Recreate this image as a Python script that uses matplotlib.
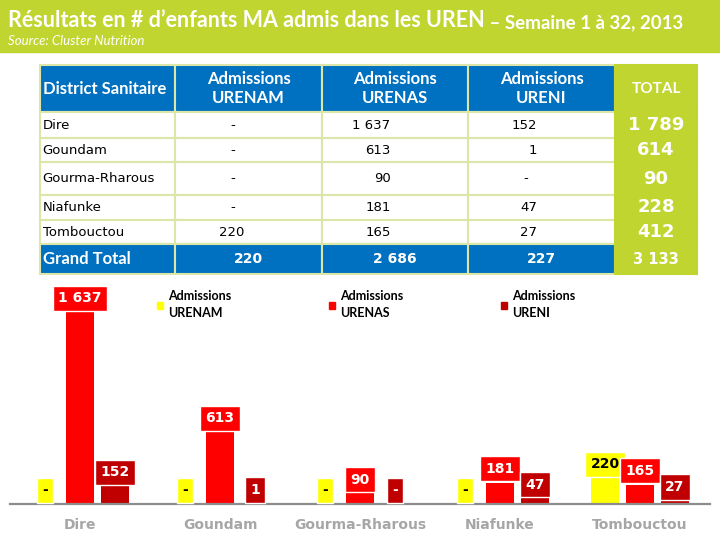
import matplotlib
matplotlib.use("Agg")
import matplotlib.pyplot as plt
from matplotlib.patches import Rectangle, Patch
import numpy as np

# data
districts = ["Dire", "Goundam", "Gourma-Rharous", "Niafunke", "Tombouctou"]
urenam = [0, 0, 0, 0, 220]
urenas = [1637, 613, 90, 181, 165]
ureni = [152, 1, 0, 47, 27]
series_names = ["Admissions\nURENAM", "Admissions\nURENAS", "Admissions\nURENI"]
series_colors = ["#FFFF00", "#FF0000", "#C00000"]
header = ["District Sanitaire", "Admissions\nURENAM", "Admissions\nURENAS",
          "Admissions\nURENI", "TOTAL"]

totals = [a + b + c for a, b, c in zip(urenam, urenas, ureni)]
grand = [sum(urenam), sum(urenas), sum(ureni), sum(totals)]


def fmt(v, dash="-"):
    if v == 0:
        return dash
    return f"{v:,}".replace(",", " ")


GREEN = "#C0D52F"
BLUE = "#0070C0"
GRID = "#DCE6A8"

fig = plt.figure(figsize=(7.2, 5.4), dpi=100)
fig.add_artist(Rectangle((0, 1 - 52 / 540), 1, 52 / 540, transform=fig.transFigure,
                         color=GREEN, zorder=0))

t1 = fig.text(8 / 720, 1 - 27 / 540, "Résultats en # d’enfants MA admis dans les UREN",
              fontsize=15.5, fontweight="bold", color="white", family="Lato", va="baseline")
fig.text(8 / 720, 1 - 45 / 540, "Source: Cluster Nutrition", fontsize=9.5, style="italic",
         color="white", family="Lato", va="baseline")

# ---- table ----
ax_t = fig.add_axes([40 / 720, 1 - 274 / 540, 657 / 720, 209 / 540])
ax_t.axis("off")
ax_t.annotate(" – Semaine 1 à 32, 2013", xy=(1, 0), xycoords=t1, va="bottom", ha="left",
              fontsize=13.5, fontweight="bold", color="white", family="Lato",
              annotation_clip=False)

cells = [header]
for d, a, b, c, t in zip(districts, urenam, urenas, ureni, totals):
    cells.append([d, fmt(a, "-  "), fmt(b, "-  "), fmt(c, "-  "), fmt(t)])
cells.append(["Grand Total"] + [fmt(v) for v in grand])

col_w = [135, 147, 146, 147, 82]
row_h = [47, 26, 24, 33, 25, 24, 30]
nrows = len(cells)

tab = ax_t.table(cellText=cells, bbox=[0, 0, 1, 1], cellLoc="center")
tab.auto_set_font_size(False)
for (r, c), cell in tab.get_celld().items():
    cell.set_width(col_w[c])
    cell.set_height(row_h[r])
    cell.set_linewidth(1.5)
    cell.set_edgecolor(GRID)
    txt = cell.get_text()
    txt.set_multialignment("center")
    last = r == nrows - 1
    if c == 4:
        cell.set_facecolor(GREEN)
        cell.set_edgecolor(GREEN)
        txt.set_color("white")
        txt.set_fontweight("bold")
        if r == 0:
            txt.set_family("Lato")
            txt.set_fontsize(11)
        else:
            txt.set_fontsize(10.5 if last else 13)
    elif r == 0 or last:
        cell.set_facecolor(BLUE)
        txt.set_color("white")
        txt.set_fontweight("bold")
        txt.set_family("Lato")
        txt.set_fontsize(12)
        if last and c > 0:
            txt.set_family("DejaVu Sans")
            txt.set_fontsize(10)
        if c == 0:
            txt.set_horizontalalignment("left")
            cell.PAD = 0.02
    else:
        cell.set_facecolor("white")
        txt.set_fontsize(9.5)
        if c == 0:
            txt.set_horizontalalignment("left")
            cell.PAD = 0.02
        else:
            txt.set_horizontalalignment("right")
            cell.PAD = 0.53

# ---- bar chart ----
ax = fig.add_axes([10 / 720, 36 / 540, 700 / 720, 211 / 540])
x = np.arange(len(districts))
w = 0.193
off = 0.25
for i, vals in enumerate([urenam, urenas, ureni]):
    col = series_colors[i]
    pos = x + (i - 1) * off
    ax.bar(pos, vals, w, color=col, label=series_names[i], zorder=2)
    tc = "black" if i == 0 else "white"
    for xi, v in zip(pos, vals):
        ax.annotate(fmt(v), (xi, v), xytext=(0, 10), textcoords="offset points",
                    ha="center", va="center", fontsize=10, fontweight="bold", color=tc,
                    bbox=dict(boxstyle="square,pad=0.4", fc=col, ec="white", lw=1),
                    zorder=3, annotation_clip=False)

ax.set_xlim(-0.5, 4.5)
ax.set_ylim(0, 1800)
for s in ["top", "left", "right"]:
    ax.spines[s].set_visible(False)
ax.spines["bottom"].set_color("#8C8C8C")
ax.spines["bottom"].set_linewidth(1.6)
ax.set_yticks([])
ax.set_xticks(x, districts)
ax.tick_params(axis="x", length=0, pad=10, labelsize=10, labelcolor="#A6A6A6")
for lab in ax.get_xticklabels():
    lab.set_fontweight("bold")

handles = [Patch(color=c) for c in series_colors]
leg = ax.legend(handles, series_names, loc="upper left",
                bbox_to_anchor=(157 / 720, 1 - 290 / 540),
                bbox_transform=fig.transFigure, ncol=3, frameon=False, handlelength=0.5,
                handleheight=0.5, handletextpad=0.4, columnspacing=7.8, borderaxespad=0,
                borderpad=0, prop={"family": "Lato", "weight": "bold", "size": 9})
for t in leg.get_texts():
    t.set_linespacing(1.5)

fig.savefig("out.png", dpi=100)
